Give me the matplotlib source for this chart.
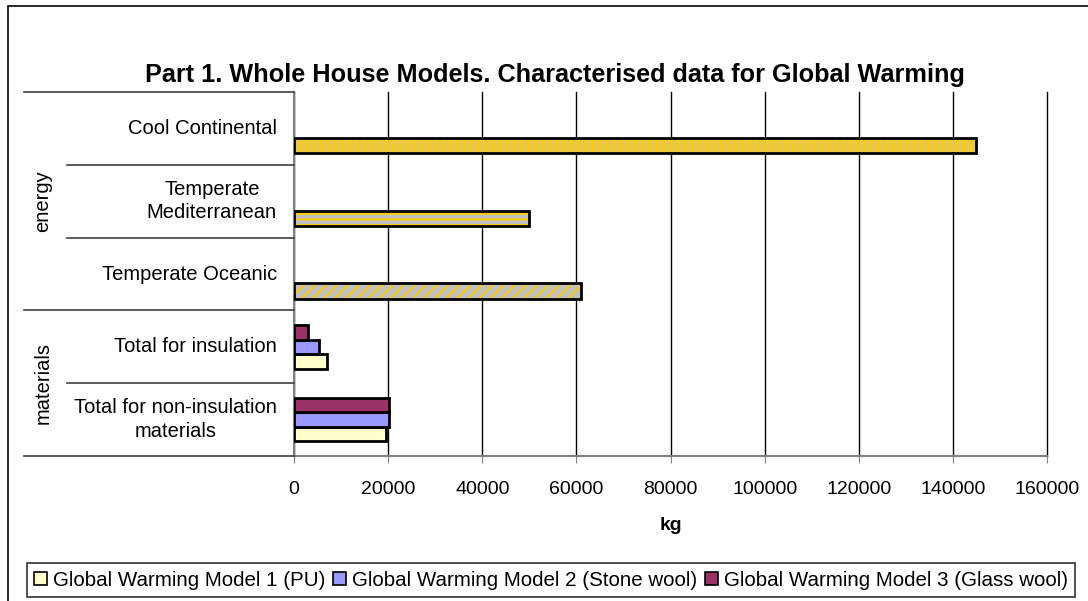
import numpy as np
import matplotlib.pyplot as plt
import matplotlib.transforms as mtransforms
from matplotlib.lines import Line2D
from matplotlib.patches import Rectangle, Patch

plt.rcParams['font.family'] = ['Liberation Sans', 'DejaVu Sans']
plt.rcParams['hatch.linewidth'] = 1.4

# categories listed top to bottom
categories = ['Cool Continental', 'Temperate\nMediterranean', 'Temperate Oceanic',
              'Total for insulation', 'Total for non-insulation\nmaterials']
groups = ['energy', 'materials']
group_sizes = [3, 2]

model1 = [145000, 50000, 61000, 7000, 19600]
model2 = [None, None, None, 5300, 20200]
model3 = [None, None, None, 3000, 20200]
energy_hatch = ['||||||', '---', '///']

series_names = ['Global Warming Model 1 (PU)', 'Global Warming Model 2 (Stone wool)',
                'Global Warming Model 3 (Glass wool)']
series_colors = ['#FFFFCC', '#9999FF', '#993366']

W, H = 1088, 601
fig = plt.figure(figsize=(W / 100, H / 100), dpi=100)
ax = fig.add_axes([294 / W, 1 - 456 / H, (1047 - 294) / W, (456 - 92) / H])

n = len(categories)
ypos = np.arange(n)[::-1]  # top category gets the highest y
bh = 0.2
offsets = [-0.2, 0.0, 0.2]

for k, vals in enumerate([model1, model2, model3]):
    for i, v in enumerate(vals):
        if v is None:
            continue
        if k == 0 and i < len(energy_hatch):
            y = ypos[i] - 0.235
            ax.barh(y, v, height=0.21, color='#C0C0C0', edgecolor='#FFCC00',
                    hatch=energy_hatch[i], linewidth=0, zorder=3)
            ax.barh(y, v, height=0.21, fill=False, edgecolor='black',
                    linewidth=2, zorder=4)
        else:
            ax.barh(ypos[i] + offsets[k], v, height=bh, color=series_colors[k],
                    edgecolor='black', linewidth=2, zorder=3)

ax.set_xlim(0, 160000)
ax.set_ylim(-0.5, n - 0.5)
ax.set_xticks(np.arange(0, 160001, 20000))
ax.tick_params(axis='x', labelsize=14, length=5, color='#808080', pad=13)
ax.set_yticks([])
ax.grid(axis='x', color='black', linewidth=1, zorder=0)
for gl in ax.get_xgridlines():
    gl.set_clip_on(False)
for s in ['top', 'right']:
    ax.spines[s].set_visible(False)
for s in ['left', 'bottom']:
    ax.spines[s].set_color('#808080')
    ax.spines[s].set_linewidth(1.5)
ax.set_xlabel('kg', fontsize=14, fontweight='bold', labelpad=14)

# hierarchical category axis on the left
tr = mtransforms.blended_transform_factory(fig.transFigure, ax.transData)
x_axis = 294 / W
bounds = [-0.5]
for g in group_sizes[::-1]:
    bounds.append(bounds[-1] + g)
for b in bounds:
    fig.add_artist(Line2D([24 / W, x_axis], [b, b], transform=tr,
                          color='#404040', linewidth=1.2))
for b in [0.5, 2.5, 3.5]:
    fig.add_artist(Line2D([67 / W, x_axis], [b, b], transform=tr,
                          color='#404040', linewidth=1.2))
for i, c in enumerate(categories):
    fig.text(277 / W, ypos[i], c, transform=tr, ha='right', va='center',
             multialignment='center', fontsize=14.5, linespacing=1.3)
start = n - 0.5
for g, size in zip(groups, group_sizes):
    mid = start - size / 2
    fig.text(43 / W, mid, g, transform=tr, rotation=90, ha='center',
             va='center', fontsize=14.5)
    start -= size

fig.text(555 / W, 1 - 75 / H, 'Part 1. Whole House Models. Characterised data for Global Warming',
         ha='center', va='center', fontsize=18.2, fontweight='bold')

# chart frame
fig.add_artist(Rectangle((8 / W, -0.1), 1.2, 1.1 - 6 / H, transform=fig.transFigure,
                         fill=False, edgecolor='black', linewidth=1.2))

handles = [Patch(facecolor=c, edgecolor='black', linewidth=1.2) for c in series_colors]
leg = fig.legend(handles, series_names, loc='center', bbox_to_anchor=(551 / W, 1 - 580 / H),
                 ncol=3, fontsize=14.8, frameon=True, fancybox=False, edgecolor='black',
                 handlelength=0.6, handleheight=0.6, handletextpad=0.3,
                 columnspacing=0.4, borderpad=0.35, borderaxespad=0)
leg.get_frame().set_linewidth(1.2)

fig.savefig('out.png', dpi=100)
